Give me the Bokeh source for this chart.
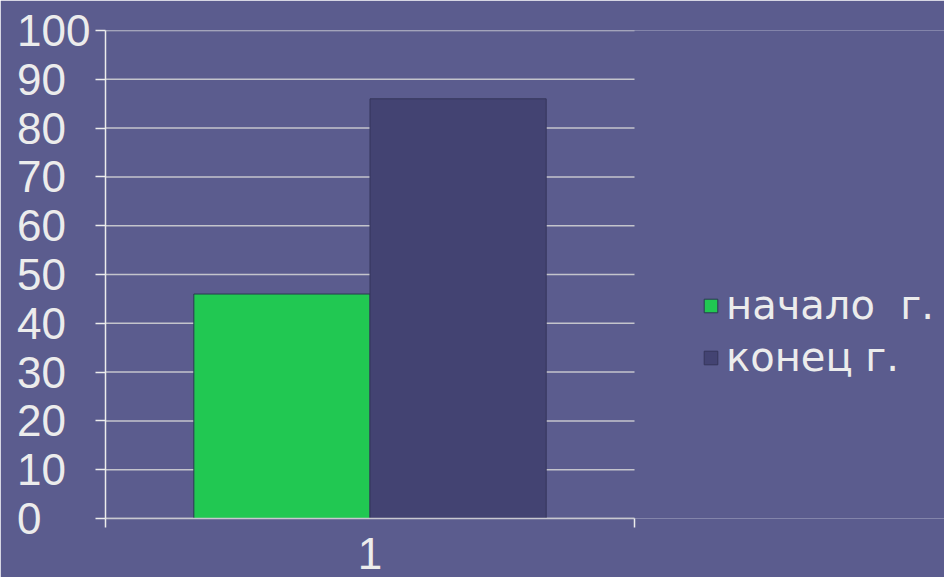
from bokeh.plotting import figure
from bokeh.models import (ColumnDataSource, Range1d, FixedTicker, Legend, LegendItem)
from bokeh.transform import dodge
from bokeh.embed import file_html
from bokeh.resources import INLINE

# ---- data ----
categories = [1]
category_labels = ["1"]
series_names = ["начало  г.", "конец г."]
start_values = [46]
end_values = [86]
y_ticks = [0, 10, 20, 30, 40, 50, 60, 70, 80, 90, 100]
y_tick_labels = [str(t) for t in y_ticks]

BG = "#5b5c8e"
GREEN = "#21c852"
BLUE = "#434372"
LIGHT = "#ececec"

# plot area: category axis spans 0.5..1.5; the frame extends further right to hold the legend
X0, X1 = 0.5, 1.5
FRAME_W = 944 - 105
AXIS_W = 529
x_end = X0 + (X1 - X0) * FRAME_W / AXIS_W

src = ColumnDataSource(dict(x=categories, start=start_values, end=end_values))

p = figure(width=944, height=577, output_backend="svg", toolbar_location=None,
           x_range=Range1d(X0, x_end), y_range=Range1d(0, 100),
           min_border_left=105, min_border_right=0, min_border_top=30,
           min_border_bottom=59)
p.background_fill_color = BG
p.border_fill_color = BG
p.outline_line_color = None

# grid lines limited to the category axis extent
grid_src = ColumnDataSource(dict(y=y_ticks, x0=[X0] * len(y_ticks), x1=[X1] * len(y_ticks)))
p.segment(x0="x0", x1="x1", y0="y", y1="y", source=grid_src,
          line_color="#c4c4cc", line_width=1.5)

r1 = p.vbar(x=dodge("x", -0.1665, range=p.x_range), top="start", width=0.333,
            source=src, fill_color=GREEN, line_color="#2a3a50", line_width=1)
r2 = p.vbar(x=dodge("x", 0.1665, range=p.x_range), top="end", width=0.333,
            source=src, fill_color=BLUE, line_color="#35355a", line_width=1)

# y axis: labels padded with figure spaces so they appear left-aligned
FIG_SP = "\u2007"
width_max = max(len(s) for s in y_tick_labels)
p.yaxis.ticker = FixedTicker(ticks=y_ticks)
p.yaxis.major_label_overrides = {t: s + FIG_SP * (width_max - len(s))
                                 for t, s in zip(y_ticks, y_tick_labels)}
p.yaxis.axis_line_color = LIGHT
p.yaxis.axis_line_width = 1.5
p.yaxis.major_tick_line_color = LIGHT
p.yaxis.major_tick_line_width = 1.5
p.yaxis.major_tick_out = 10
p.yaxis.major_tick_in = 0
p.yaxis.minor_tick_line_color = None
p.yaxis.major_label_standoff = 5
p.yaxis.major_label_text_font = "Liberation Sans"
p.yaxis.major_label_text_font_size = "44px"
p.yaxis.major_label_text_color = LIGHT

# x axis
p.xaxis.bounds = (X0, X1)
p.xaxis.ticker = FixedTicker(ticks=categories, minor_ticks=[X0, X1])
p.xaxis.major_label_overrides = {c: s for c, s in zip(categories, category_labels)}
p.xaxis.axis_line_color = "#c8c8d0"
p.xaxis.axis_line_width = 1.5
p.xaxis.major_tick_line_color = None
p.xaxis.major_tick_out = 0
p.xaxis.major_tick_in = 0
p.xaxis.minor_tick_line_color = LIGHT
p.xaxis.minor_tick_line_width = 1.5
p.xaxis.minor_tick_out = 9
p.xaxis.minor_tick_in = 0
p.xaxis.major_label_standoff = 10
p.xaxis.major_label_text_font = "Liberation Sans"
p.xaxis.major_label_text_font_size = "44px"
p.xaxis.major_label_text_color = LIGHT

p.xgrid.grid_line_color = None
p.ygrid.grid_line_color = None

legend = Legend(items=[LegendItem(label=series_names[0], renderers=[r1]),
                       LegendItem(label=series_names[1], renderers=[r2])],
                location=(597, 138), orientation="vertical")
legend.background_fill_alpha = 0
legend.border_line_color = None
legend.padding = 0
legend.margin = 0
legend.spacing = 6
legend.glyph_width = 17
legend.glyph_height = 17
legend.label_standoff = 7
legend.label_text_font = "DejaVu Sans"
legend.label_text_font_size = "40px"
legend.label_text_color = LIGHT
p.add_layout(legend, "center")

open("out.html", "w").write(file_html(p, INLINE))
